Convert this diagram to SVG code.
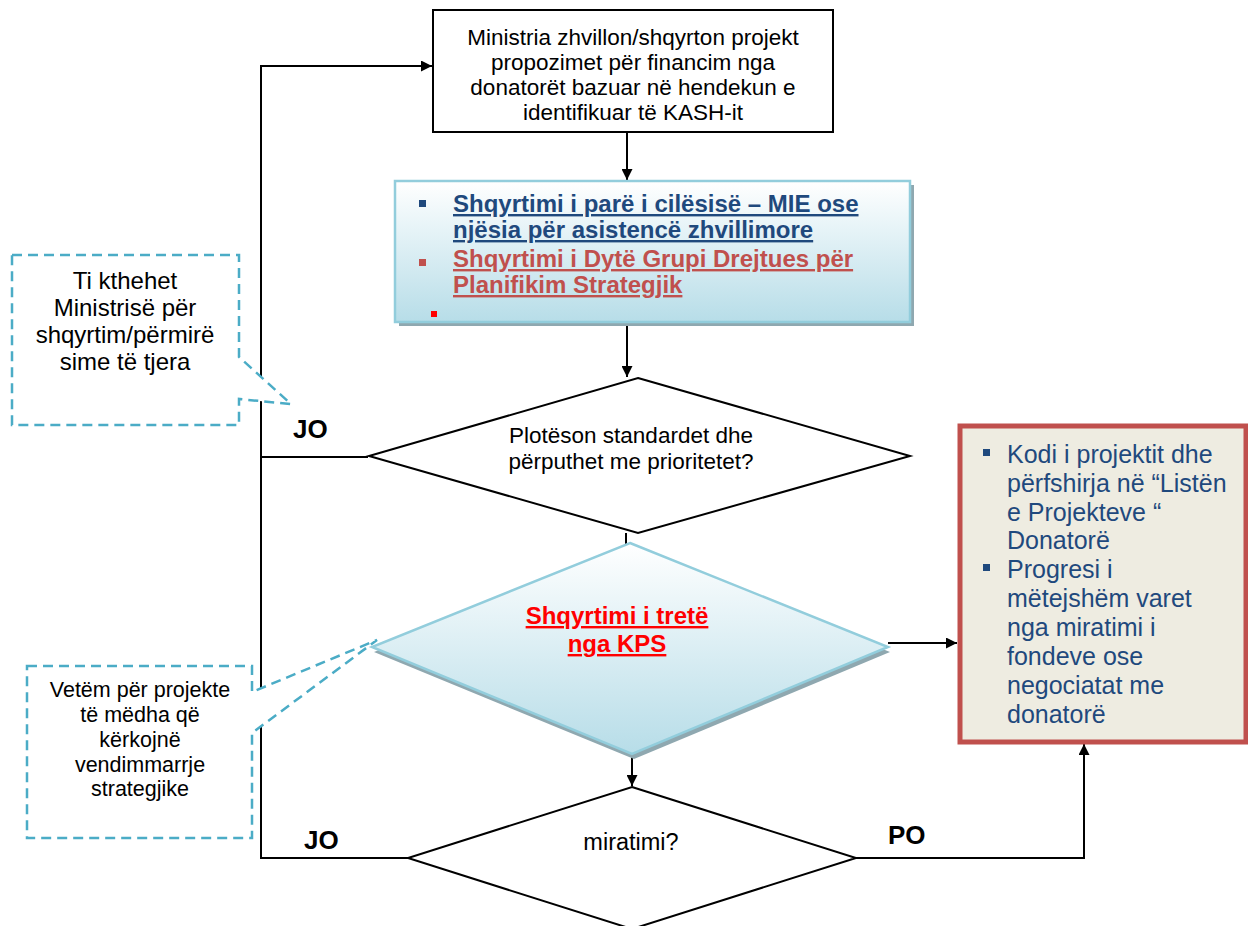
<svg xmlns="http://www.w3.org/2000/svg" width="1248" height="926" viewBox="0 0 1248 926">
<style>
text{font-family:"Liberation Sans",Arial,sans-serif;}
.conn{fill:none;stroke:#000;stroke-width:2;}
.box{fill:#fff;stroke:#000;stroke-width:2;}
.dia{fill:#fff;stroke:#000;stroke-width:2;}
.t{font-size:22.5px;fill:#000;text-anchor:middle;}
.call{fill:#fff;stroke:#4bacc6;stroke-width:2.5;stroke-dasharray:10 6;}
.ct{font-size:21.5px;fill:#000;text-anchor:middle;}
.ct1{font-size:24px;fill:#000;text-anchor:middle;}
.lbl{font-size:26px;font-weight:bold;fill:#000;}
.bt{font-size:24px;font-weight:bold;text-decoration:underline;}
.rt{font-size:25px;fill:#1f497d;}
</style>
<defs>
<marker id="arr" viewBox="0 0 10 10" refX="10" refY="5" markerWidth="13" markerHeight="11" markerUnits="userSpaceOnUse" orient="auto">
<path d="M0,0 L10,5 L0,10 z" fill="#000"/>
</marker>
<linearGradient id="bg" x1="0" y1="0" x2="0" y2="1">
<stop offset="0" stop-color="#ffffff"/>
<stop offset="1" stop-color="#b7dde8"/>
</linearGradient>
</defs>

<g id="connectors">
<path class="conn" d="M627,132 V180" marker-end="url(#arr)"/>
<path class="conn" d="M627,322 V377" marker-end="url(#arr)"/>
<path class="conn" d="M626,533 V545"/>
<path class="conn" d="M888,643 H957" marker-end="url(#arr)"/>
<path class="conn" d="M632,754 V786" marker-end="url(#arr)"/>
<path class="conn" d="M408,858 H261 V66 H432" marker-end="url(#arr)"/>
<path class="conn" d="M368,457 H261"/>
<path class="conn" d="M856,858 H1084 V744" marker-end="url(#arr)"/>
</g>

<g id="top-box">
<rect class="box" x="433" y="10" width="400" height="122"/>
<text class="t" x="633" y="45">Ministria zhvillon/shqyrton projekt</text>
<text class="t" x="633" y="70">propozimet për financim nga</text>
<text class="t" x="633" y="95">donatorët bazuar në hendekun e</text>
<text class="t" x="633" y="120">identifikuar të KASH-it</text>
</g>

<g id="review-box">
<rect x="399" y="185" width="515" height="141" fill="#8fa8b0"/>
<rect x="395" y="181" width="515" height="141" fill="url(#bg)" stroke="#92cddc" stroke-width="2.5"/>
<rect x="419" y="200" width="7" height="7" fill="#1f497d"/>
<text class="bt" x="453" y="212" fill="#1f497d">Shqyrtimi i parë i cilësisë – MIE ose</text>
<text class="bt" x="453" y="238" fill="#1f497d">njësia për asistencë zhvillimore</text>
<rect x="419" y="259" width="7" height="7" fill="#c0504d"/>
<text class="bt" x="453" y="267" fill="#c0504d">Shqyrtimi i Dytë Grupi Drejtues për</text>
<text class="bt" x="453" y="293" fill="#c0504d">Planifikim Strategjik</text>
<rect x="431" y="311" width="6" height="6" fill="#ff0000"/>
</g>

<g id="decision-standards">
<polygon class="dia" points="638,378 910,456 638,533 369,456"/>
<text class="t" x="631" y="443">Plotëson standardet dhe</text>
<text class="t" x="631" y="469">përputhet me prioritetet?</text>
</g>

<g id="decision-kps">
<polygon points="632,548 890,652 634,759 374,652" fill="#8fa8b0"/>
<polygon points="630,543 888,647 632,754 372,647" fill="url(#bg)" stroke="#92cddc" stroke-width="2.5"/>
<text class="bt" x="617" y="624" fill="#ff0000" text-anchor="middle">Shqyrtimi i tretë</text>
<text class="bt" x="617" y="652" fill="#ff0000" text-anchor="middle">nga KPS</text>
</g>

<g id="decision-approval">
<polygon class="dia" points="632,787 856,858 632,929 408,858"/>
<text class="t" x="631" y="850" style="font-size:23.5px">miratimi?</text>
</g>

<g id="result-box">
<rect x="960" y="426" width="286" height="316" fill="#eeece1" stroke="#c0504d" stroke-width="5"/>
<rect x="983" y="449" width="7" height="7" fill="#1f497d"/>
<text class="rt" x="1007" y="463">Kodi i projektit dhe</text>
<text class="rt" x="1007" y="492">përfshirja në “Listën</text>
<text class="rt" x="1007" y="521">e Projekteve “</text>
<text class="rt" x="1007" y="549">Donatorë</text>
<rect x="983" y="564" width="7" height="7" fill="#1f497d"/>
<text class="rt" x="1007" y="578">Progresi i</text>
<text class="rt" x="1007" y="607">mëtejshëm varet</text>
<text class="rt" x="1007" y="636">nga miratimi i</text>
<text class="rt" x="1007" y="665">fondeve ose</text>
<text class="rt" x="1007" y="694">negociatat me</text>
<text class="rt" x="1007" y="723">donatorë</text>
</g>

<g id="labels">
<text class="lbl" x="293" y="438">JO</text>
<text class="lbl" x="304" y="849">JO</text>
<text class="lbl" x="888" y="844">PO</text>
</g>

<g id="callout-return">
<path class="call" d="M12,255 H239 V357 L291,404 L239,399 V425 H12 Z"/>
<text class="ct1" x="125" y="289">Ti kthehet</text>
<text class="ct1" x="125" y="316">Ministrisë për</text>
<text class="ct1" x="125" y="343">shqyrtim/përmirë</text>
<text class="ct1" x="125" y="370">sime të tjera</text>
</g>

<g id="callout-kps">
<path class="call" d="M27,666 H252 V692 L377,640 L252,733 V838 H27 Z"/>
<text class="ct" x="140" y="697">Vetëm për projekte</text>
<text class="ct" x="140" y="722">të mëdha që</text>
<text class="ct" x="140" y="747">kërkojnë</text>
<text class="ct" x="140" y="772">vendimmarrje</text>
<text class="ct" x="140" y="796">strategjike</text>
</g>
</svg>
